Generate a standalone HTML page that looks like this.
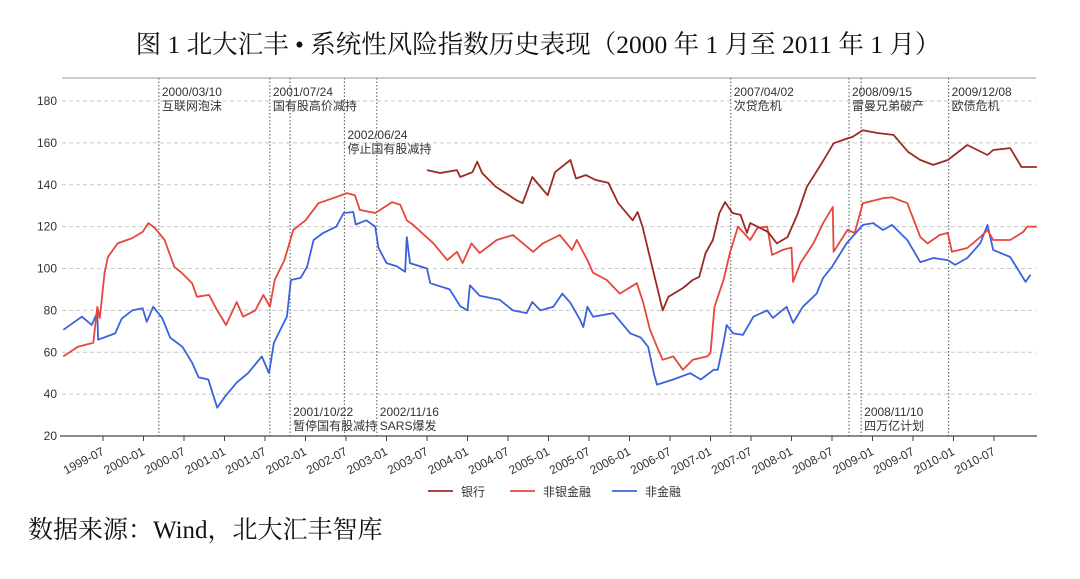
<!DOCTYPE html>
<html><head><meta charset="utf-8"><style>
body{margin:0;background:#fff;width:1080px;height:579px;overflow:hidden;font-family:"Liberation Sans","Noto Sans CJK SC",sans-serif}
svg{position:absolute;left:0;top:0}
</style></head><body>
<svg id="chart" width="1080" height="579" viewBox="0 0 1080 579">
<text x="538" y="53" text-anchor="middle" font-family="Liberation Serif,Noto Serif CJK SC,serif" font-size="25.5" fill="#111">图 1  北大汇丰 • 系统性风险指数历史表现（2000 年 1 月至 2011 年 1 月）</text>
<text x="28" y="538" font-family="Liberation Serif,Noto Serif CJK SC,serif" font-size="25" fill="#111">数据来源：Wind，北大汇丰智库</text>
<g id="grid"></g><g id="events"></g><g id="series"></g><g id="axes"></g><g id="legend"></g>
</svg>
<script>
const yTicks=[20,40,60,80,100,120,140,160,180];
const xTickLabels=["1999-07","2000-01","2000-07","2001-01","2001-07","2002-01","2002-07","2003-01","2003-07","2004-01","2004-07","2005-01","2005-07","2006-01","2006-07","2007-01","2007-07","2008-01","2008-07","2009-01","2009-07","2010-01","2010-07"];
const eventDates=[2000.19,2001.56,2001.81,2002.48,2002.88,2007.25,2008.71,2008.86,2009.94];
const eventLabels=[["2000/03/10","互联网泡沫"],["2001/07/24","国有股高价减持"],["2001/10/22","暂停国有股减持"],["2002/06/24","停止国有股减持"],["2002/11/16","SARS爆发"],["2007/04/02","次贷危机"],["2008/09/15","雷曼兄弟破产"],["2008/11/10","四万亿计划"],["2009/12/08","欧债危机"]];
const eventPlacement=["top","top","bottom","mid","bottom","top","top","bottom","top"];
const seriesNames=["银行","非银金融","非金融"];
const bankDates=[2003.50,2003.66,2003.87,2003.91,2004.06,2004.12,2004.18,2004.35,2004.47,2004.60,2004.68,2004.80,2004.90,2004.99,2005.08,2005.27,2005.34,2005.46,2005.58,2005.74,2005.86,2006.04,2006.10,2006.16,2006.28,2006.36,2006.41,2006.48,2006.66,2006.78,2006.86,2006.94,2007.03,2007.11,2007.18,2007.27,2007.37,2007.45,2007.49,2007.71,2007.82,2007.95,2008.07,2008.19,2008.36,2008.52,2008.70,2008.75,2008.88,2009.06,2009.26,2009.44,2009.59,2009.75,2009.93,2010.17,2010.42,2010.49,2010.70,2010.84,2010.92,2011.03];
const bankValues=[147,145.6,147,143.7,146,151,145.6,139,136,132.7,131.2,143.7,139,135,146,151.8,143,144.6,142.3,140.9,131.2,123,127,120,100.8,88,80,86.5,90.7,94.5,96,107.4,113.6,126.5,131.7,126.5,125.6,117,121.7,117.5,112,115,125.6,139,149.5,159.8,162.3,162.8,166,164.7,163.8,155.7,151.8,149.5,151.8,159,154.2,156.6,157.5,148.5,148.5,148.5];
const nonBankDates=[1999.01,1999.19,1999.38,1999.43,1999.46,1999.52,1999.56,1999.68,1999.86,1999.99,2000.06,2000.14,2000.26,2000.38,2000.47,2000.60,2000.66,2000.81,2000.91,2001.02,2001.15,2001.23,2001.38,2001.48,2001.56,2001.62,2001.74,2001.85,2002.00,2002.16,2002.37,2002.51,2002.61,2002.67,2002.86,2003.07,2003.17,2003.25,2003.33,2003.58,2003.75,2003.87,2003.94,2004.05,2004.15,2004.36,2004.56,2004.81,2004.93,2005.14,2005.29,2005.35,2005.48,2005.55,2005.72,2005.88,2006.09,2006.17,2006.25,2006.34,2006.41,2006.54,2006.66,2006.78,2006.96,2007.00,2007.05,2007.16,2007.24,2007.34,2007.49,2007.58,2007.70,2007.76,2007.89,2008.00,2008.02,2008.11,2008.27,2008.39,2008.51,2008.52,2008.69,2008.78,2008.88,2009.13,2009.24,2009.43,2009.59,2009.68,2009.83,2009.93,2009.98,2010.17,2010.33,2010.42,2010.49,2010.70,2010.86,2010.91,2011.03];
const nonBankValues=[58,62.6,64.5,81.7,76.4,98,105.5,112,114.5,117.5,121.7,119.4,113.6,100.8,98,93,86.5,87.4,80,73,84,77,80,87.4,81.7,94.5,104,118.4,123,131.2,134,136,135,128,126.5,131.7,130.4,123,120.8,112,104,108,102.6,112,107.4,113.6,116,108,112,116,108.9,113.6,104,98,94.5,88,93,83.6,71,62.6,56.4,58,51.6,56.4,58,59.7,81.7,94.5,107.4,120,113.6,119.4,120,106.5,108.9,110,93.6,102.6,112,121.7,129.4,108,118.4,117,131.2,133.6,134,131.2,115,112,116,117,108,109.8,115,118.4,113.6,113.6,117.5,120,120];
const nonFinDates=[1999.01,1999.24,1999.36,1999.43,1999.44,1999.65,1999.73,1999.86,1999.99,2000.04,2000.12,2000.23,2000.33,2000.48,2000.60,2000.68,2000.80,2000.91,2001.01,2001.15,2001.29,2001.46,2001.55,2001.61,2001.70,2001.77,2001.82,2001.94,2002.02,2002.10,2002.22,2002.38,2002.47,2002.59,2002.62,2002.75,2002.86,2002.90,2003.00,2003.13,2003.23,2003.25,2003.29,2003.50,2003.54,2003.78,2003.91,2004.00,2004.03,2004.15,2004.40,2004.56,2004.73,2004.80,2004.90,2005.06,2005.17,2005.27,2005.39,2005.43,2005.48,2005.55,2005.80,2006.01,2006.14,2006.23,2006.30,2006.34,2006.54,2006.75,2006.88,2007.04,2007.09,2007.15,2007.20,2007.28,2007.40,2007.53,2007.70,2007.77,2007.94,2008.02,2008.14,2008.31,2008.39,2008.50,2008.68,2008.88,2009.01,2009.13,2009.24,2009.43,2009.59,2009.75,2009.93,2010.02,2010.17,2010.33,2010.42,2010.49,2010.70,2010.89,2010.95,2011.03];
const nonFinValues=[70.7,77,73,79,66,69,76,80,81,74.5,81.7,76.4,67,62.6,55,48,47,33.5,39,45.5,50,58,50,64.5,71.6,77,94.5,95.5,100.8,113.6,117,120,126.5,127,121,123,120,110,102.6,101,98.4,115,102.6,100,93,90,82,80,92,87,85,80,78.7,84,80,81.7,88,83.6,75.5,72,81.7,77,78.7,69,67,62.6,50,44.5,47,50,47,51.6,51.6,62.6,73,69,68.3,77,80,76.4,81.7,74,81.7,88,95.5,100.8,112,120.8,121.7,118.4,120.8,113.6,103,105,104,101.7,105,112,120.8,108.9,105.5,93.6,97];

const NS="http://www.w3.org/2000/svg";
const X0=62.5,X1=1034.5,Y0=436,YT=101;
function xs(yr){return X0+(yr-1999)*(X1-X0)/12;}
function ys(v){return Y0-(v-20)*(Y0-YT)/160;}
function mk(tag,attrs,parent,text){const e=document.createElementNS(NS,tag);for(const k in attrs)e.setAttribute(k,attrs[k]);if(text!==undefined)e.textContent=text;parent.appendChild(e);return e;}
const grid=document.getElementById('grid'),axes=document.getElementById('axes'),ev=document.getElementById('events'),ser=document.getElementById('series'),leg=document.getElementById('legend');
mk('line',{x1:62,x2:1036,y1:78,y2:78,stroke:'#999','stroke-width':1},grid);
yTicks.forEach(t=>{
 if(t>20){const g=mk('line',{x1:62,x2:1036,y1:ys(t),y2:ys(t),stroke:'#c8c8c8','stroke-dasharray':'4,3','stroke-width':1},grid);
 
 }
 const l=mk('text',{x:57,y:ys(t)+4,'text-anchor':'end','font-size':12,fill:'#333'},axes,String(t));
 
 
});
const ax=mk('line',{x1:60,x2:1037,y1:Y0,y2:Y0,stroke:'#444','stroke-width':1.3},axes);


xTickLabels.forEach(s=>{
 const p=s.split('-');const yr=+p[0]+(+p[1]-1)/12;const x=xs(yr);
 mk('line',{x1:x,x2:x,y1:Y0,y2:Y0+5,stroke:'#444'},axes);
 const t=mk('text',{x:x+2,y:Y0+18,'text-anchor':'end','font-size':12,fill:'#333',transform:`rotate(-28 ${x+2} ${Y0+18})`},axes,s);
 
 
});
eventDates.forEach((d,i)=>{
 const x=xs(d);
 const l=mk('line',{x1:x,x2:x,y1:78,y2:Y0,stroke:'#555','stroke-dasharray':'1.5,2','stroke-width':1},ev);
 
 
 const y=eventPlacement[i]==='top'?96:eventPlacement[i]==='mid'?139:416;
 const t1=mk('text',{x:x+3,y:y,'font-size':12,fill:'#333'},ev,eventLabels[i][0]);
 
 
 const t2=mk('text',{x:x+3,y:y+14,'font-size':12,fill:'#333'},ev,eventLabels[i][1]);
 
 
});
function line(dates,vals,color,name){
 const d=dates.map((t,i)=>(i?'L':'M')+xs(t).toFixed(1)+','+ys(vals[i]).toFixed(1)).join('');
 const p=mk('path',{d:d,fill:'none',stroke:color,'stroke-width':1.8,'stroke-linejoin':'round'},ser);
 
 
}
line(nonFinDates,nonFinValues,'#3b62dc','non-financial-line');
line(nonBankDates,nonBankValues,'#e5473d','non-bank-financial-line');
line(bankDates,bankValues,'#9a2b24','bank-line');
const legX=[428,510,612],legC=['#9a2b24','#e5473d','#3b62dc'];
seriesNames.forEach((n,i)=>{
 const l=mk('line',{x1:legX[i],x2:legX[i]+25,y1:491,y2:491,stroke:legC[i],'stroke-width':1.8},leg);
 
 
 const t=mk('text',{x:legX[i]+33,y:496,'font-size':12,fill:'#333'},leg,n);
 
 
});
</script>
</body></html>
